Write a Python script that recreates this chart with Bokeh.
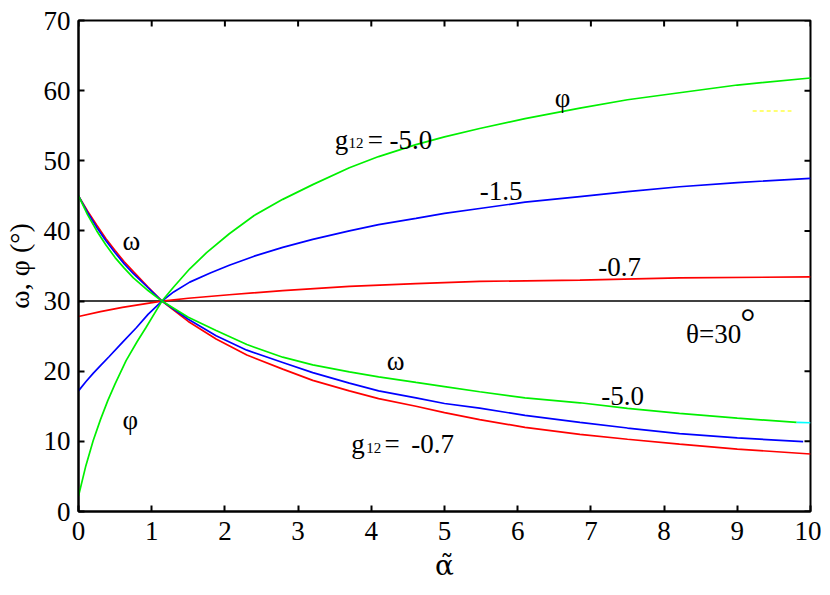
import math
from bokeh.plotting import figure
from bokeh.models import FixedTicker, Range1d
from bokeh.core.properties import value
from bokeh.embed import file_html
from bokeh.resources import INLINE

# ---- data ----
x_ticks = [0, 1, 2, 3, 4, 5, 6, 7, 8, 9, 10]
y_ticks = [0, 10, 20, 30, 40, 50, 60, 70]

theta = 30.0

phi_red_x = [0, 0.3, 0.6, 0.9, 1.14, 1.5, 2.06, 2.79, 3.70, 4.61, 5.48, 6.85, 8.21, 10]
phi_red_y = [27.8, 28.5, 29.1, 29.6, 30.0, 30.4, 30.9, 31.5, 32.1, 32.5, 32.8, 33.0, 33.3, 33.45]

phi_blue_x = [0, 0.1, 0.2, 0.3, 0.42, 0.6, 0.79, 0.95, 1.14, 1.3, 1.52, 1.8, 2.06, 2.4, 2.79,
              3.2, 3.70, 4.1, 4.61, 5.0, 5.48, 6.1, 6.85, 7.5, 8.21, 9.0, 10]
phi_blue_y = [17.2, 18.5, 19.7, 20.8, 22.1, 24.1, 26.2, 28.1, 30.0, 31.3, 32.7, 34.0, 35.1, 36.4, 37.65,
              38.8, 40.0, 40.9, 41.8, 42.5, 43.2, 44.1, 44.9, 45.6, 46.3, 46.9, 47.5]

phi_green_x = [0, 0.1, 0.2, 0.3, 0.4, 0.5, 0.65, 0.8, 0.92, 1.14, 1.3, 1.52, 1.75, 2.06, 2.4, 2.79,
               3.2, 3.70, 4.1, 4.61, 5.0, 5.48, 6.1, 6.85, 7.5, 8.21, 9.0, 10]
phi_green_y = [2.2, 6.5, 10.1, 13.1, 15.8, 18.2, 21.5, 24.2, 26.2, 30.0, 32.0, 34.6, 36.9, 39.6, 42.2, 44.5,
               46.6, 49.0, 50.6, 52.3, 53.4, 54.6, 56.0, 57.5, 58.7, 59.7, 60.8, 61.8]

om_x = [0, 0.125, 0.25, 0.375, 0.5, 0.625, 0.75, 0.95, 1.14, 1.5, 1.88, 2.3, 2.79,
        3.2, 3.70, 4.1, 4.61, 5.0, 5.48, 6.1, 6.85, 7.5, 8.21, 9.0, 10]
om_red_y = [45, 42.8, 40.8, 38.9, 37.2, 35.6, 34.2, 32.0, 30, 27.1, 24.6, 22.3, 20.3,
            18.7, 17.2, 16.1, 15.0, 14.1, 13.1, 12.0, 11.0, 10.3, 9.6, 8.9, 8.2]

om_blue_x = [0, 0.125, 0.25, 0.375, 0.5, 0.625, 0.75, 0.95, 1.14, 1.5, 1.88, 2.3, 2.79,
             3.2, 3.70, 4.1, 4.61, 5.0, 5.48, 6.1, 6.85, 7.5, 8.21, 9.0, 9.9]
om_blue_y = [45, 42.6, 40.5, 38.6, 36.9, 35.3, 33.9, 31.9, 30, 27.4, 25.05, 23.0, 21.25,
             19.8, 18.3, 17.2, 16.2, 15.4, 14.74, 13.7, 12.7, 11.9, 11.1, 10.5, 9.95]

om_green_x = [0, 0.125, 0.25, 0.375, 0.5, 0.625, 0.75, 0.95, 1.14, 1.5, 1.88, 2.3, 2.79,
              3.2, 3.70, 4.1, 4.61, 5.0, 5.48, 6.1, 6.85, 7.5, 8.21, 9.0, 9.81]
om_green_y = [45, 42.3, 40.0, 38.0, 36.2, 34.7, 33.3, 31.5, 30, 27.7, 25.8, 23.8, 22.0,
              20.9, 19.9, 19.2, 18.4, 17.8, 17.07, 16.2, 15.5, 14.7, 14.0, 13.3, 12.7]

om_cyan_x = [9.81, 10]
om_cyan_y = [12.7, 12.65]

yellow_x = [9.21, 9.74]
yellow_y = [57.1, 57.1]

FONT = value("Liberation Serif")

x_lo, x_hi = x_ticks[0], x_ticks[-1]
y_lo, y_hi = y_ticks[0], y_ticks[-1]

p = figure(frame_width=732, frame_height=491,
           x_range=Range1d(x_lo, x_hi), y_range=Range1d(y_lo, y_hi),
           output_backend="svg", toolbar_location=None,
           min_border_left=71, min_border_right=11,
           min_border_top=20, min_border_bottom=68)
p.grid.visible = False
p.outline_line_color = "black"
p.outline_line_width = 2

def style_axis(ax, ticks):
    ax.ticker = FixedTicker(ticks=ticks)
    ax.major_tick_in = 6
    ax.major_tick_out = 0
    ax.minor_tick_in = 0
    ax.minor_tick_out = 0
    ax.axis_line_width = 2
    ax.major_tick_line_width = 2
    ax.major_label_text_font = "Liberation Serif"
    ax.major_label_text_font_size = "27px"
    ax.major_label_text_color = "black"
    ax.axis_label_text_font = "Liberation Serif"
    ax.axis_label_text_font_style = "normal"
    ax.axis_label_text_color = "black"

for ax in p.below:
    style_axis(ax, x_ticks)
    ax.major_label_standoff = 10
    ax.axis_label = "α̃"
    ax.axis_label_text_font = "DejaVu Serif"
    ax.axis_label_text_font_size = "28px"
    ax.axis_label_standoff = 6
for ax in p.left:
    style_axis(ax, y_ticks)
    ax.major_label_standoff = 8
    ax.axis_label = "ω, φ (°)"
    ax.axis_label_text_font_size = "28px"
    ax.axis_label_standoff = 6

# inward tick marks on the top and right frame edges (half of each dash is clipped by the frame)
p.scatter(x=x_ticks, y=[y_hi] * len(x_ticks), marker="dash", size=12,
          angle=math.pi / 2, line_color="black", line_width=2)
p.scatter(x=[x_hi] * len(y_ticks), y=y_ticks, marker="dash", size=12,
          line_color="black", line_width=2)

# reference line theta = 30
p.line(x=[x_lo, x_hi], y=[theta, theta], line_color="black", line_width=1.6)

lw = 1.7
GREEN = "#00f000"
p.line(phi_red_x, phi_red_y, line_color="#ff0000", line_width=lw)
p.line(phi_blue_x, phi_blue_y, line_color="#0000ff", line_width=lw)
p.line(phi_green_x, phi_green_y, line_color=GREEN, line_width=lw)
p.line(om_x, om_red_y, line_color="#ff0000", line_width=lw)
p.line(om_blue_x, om_blue_y, line_color="#0000ff", line_width=lw)
p.line(om_green_x, om_green_y, line_color=GREEN, line_width=lw)
p.line(om_cyan_x, om_cyan_y, line_color="#00ffff", line_width=lw)
p.line(yellow_x, yellow_y, line_color="#ffff44", line_width=1.5, line_dash="4 3")

def txt(x, y, s, size="27px"):
    p.text(x=[x], y=[y], text=[s], text_font=FONT, text_font_size=size,
           text_align="left", text_baseline="alphabetic", text_color="black")

txt(0.60, 38.6, "ω")
txt(0.60, 13.0, "φ")
txt(6.505, 58.9, "φ")
txt(4.21, 21.5, "ω")

# g12 = -5.0
txt(3.50, 53.0, "g")
txt(3.69, 52.5, "12", "15px")
txt(3.95, 53.0, "=")
txt(4.25, 53.0, "-5.0")

# g12 = -0.7
txt(3.727, 9.6, "g")
txt(3.93, 9.0, "12", "15px")
txt(4.18, 9.6, "=")
txt(4.547, 9.6, "-0.7")

txt(5.48, 45.7, "-1.5")
txt(7.10, 34.8, "-0.7")
txt(7.14, 16.5, "-5.0")
txt(8.30, 25.3, "θ=30")
txt(9.04, 27.0, "°", "38px")

open("out.html", "w").write(file_html(p, INLINE))
